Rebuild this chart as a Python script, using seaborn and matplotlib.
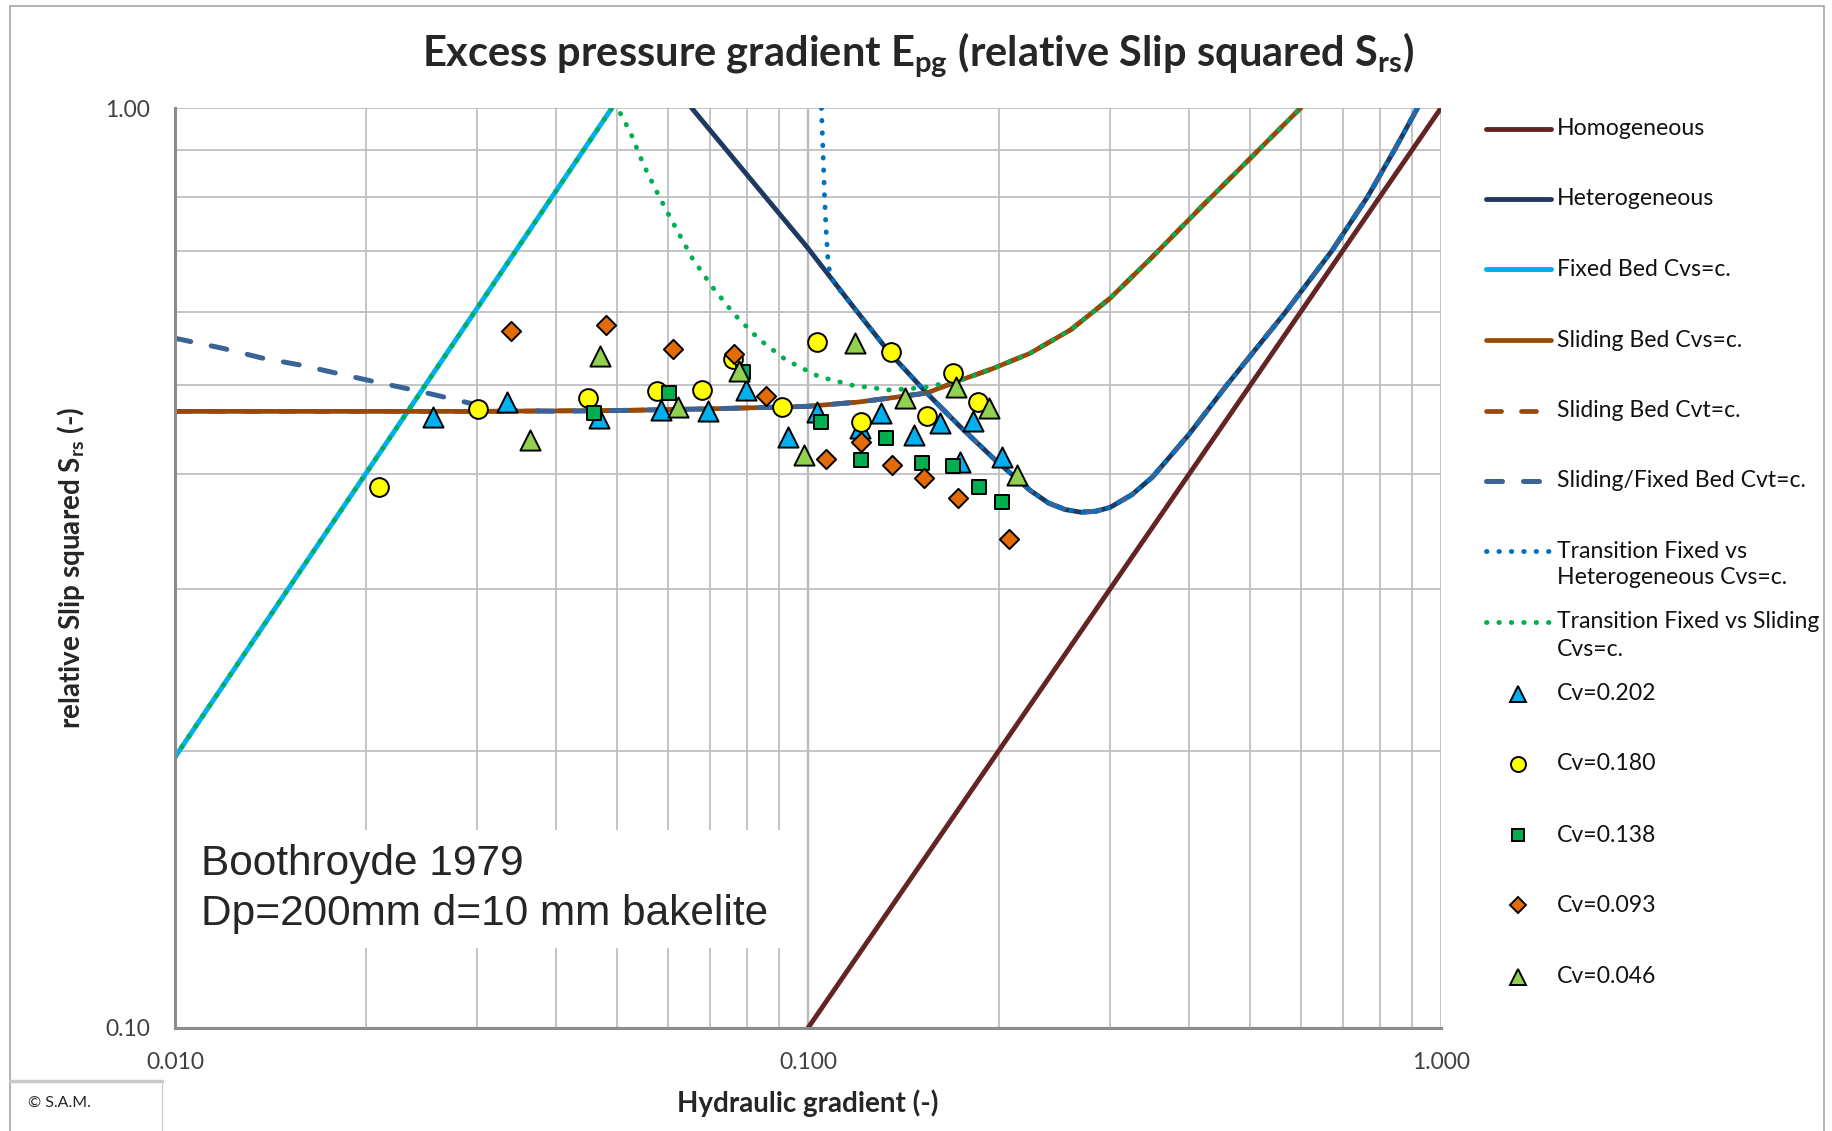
import matplotlib
matplotlib.use("Agg")
import matplotlib.pyplot as plt
import seaborn as sns
from matplotlib.lines import Line2D
from matplotlib.patches import Rectangle
from matplotlib.ticker import FixedLocator, NullFormatter

# --- model curves ---
homog_x = [0.10, 1.00]
homog_y = [0.10, 1.00]

hetero_x = [0.0655, 0.0821, 0.0995, 0.1179, 0.1348, 0.154, 0.1739, 0.1964, 0.2244, 0.240,
            0.255, 0.270, 0.285, 0.300, 0.325, 0.350, 0.400, 0.459, 0.568, 0.673, 0.765,
            0.844, 0.918]
hetero_y = [1.000, 0.829, 0.707, 0.608, 0.541, 0.490, 0.4505, 0.416, 0.384, 0.372,
            0.366, 0.3636, 0.3645, 0.368, 0.380, 0.397, 0.442, 0.500, 0.600, 0.700, 0.800,
            0.900, 1.000]

fixed_x = [0.010, 0.049]
fixed_y = [0.197, 1.000]

sliding_x = [0.010, 0.030, 0.050, 0.070, 0.090, 0.100, 0.120, 0.135, 0.154, 0.174, 0.196,
             0.224, 0.260, 0.300, 0.350, 0.420, 0.500, 0.600]
sliding_y = [0.468, 0.468, 0.469, 0.471, 0.473, 0.474, 0.479, 0.484, 0.490, 0.506, 0.521,
             0.541, 0.574, 0.621, 0.689, 0.783, 0.882, 1.000]

slidfix_x = [0.010, 0.0119, 0.0137, 0.0159, 0.0182, 0.0211, 0.0244, 0.0280, 0.0326, 0.040,
             0.050, 0.070, 0.090, 0.100, 0.120, 0.135, 0.154, 0.1739, 0.1964, 0.2244, 0.240,
             0.255, 0.270, 0.285, 0.300, 0.325, 0.350, 0.400, 0.459, 0.568, 0.673, 0.765,
             0.844, 0.918]
slidfix_y = [0.562, 0.548, 0.535, 0.525, 0.514, 0.5025, 0.492, 0.481, 0.4695, 0.468,
             0.469, 0.471, 0.473, 0.474, 0.479, 0.484, 0.490, 0.4505, 0.416, 0.384, 0.372,
             0.366, 0.3636, 0.3645, 0.368, 0.380, 0.397, 0.442, 0.500, 0.600, 0.700, 0.800,
             0.900, 1.000]

trans_het_x = [0.1050, 0.1056, 0.1062, 0.1068, 0.1077, 0.1100, 0.1179, 0.1348, 0.154, 0.1739,
               0.1964, 0.2244, 0.240, 0.255, 0.270, 0.285, 0.300, 0.325, 0.350, 0.400, 0.459,
               0.568, 0.673, 0.765, 0.844, 0.918]
trans_het_y = [1.000, 0.900, 0.801, 0.737, 0.672, 0.645, 0.608, 0.541, 0.490, 0.4505,
               0.416, 0.384, 0.372, 0.366, 0.3636, 0.3645, 0.368, 0.380, 0.397, 0.442, 0.500,
               0.600, 0.700, 0.800, 0.900, 1.000]

trans_sld_x = [0.010, 0.049, 0.0502, 0.0524, 0.0550, 0.0582, 0.0618, 0.0657, 0.0706, 0.0766,
               0.0837, 0.0924, 0.1041, 0.1179, 0.1348, 0.1521, 0.174, 0.196, 0.224, 0.260,
               0.300, 0.350, 0.420, 0.500, 0.600]
trans_sld_y = [0.197, 1.000, 0.995, 0.941, 0.867, 0.801, 0.741, 0.686, 0.639, 0.596,
               0.5605, 0.532, 0.5105, 0.4993, 0.4937, 0.4966, 0.506, 0.521, 0.541, 0.574,
               0.621, 0.689, 0.783, 0.882, 1.000]

# --- measurements ---
cv202_x = [0.0256, 0.0334, 0.0468, 0.0586, 0.0696, 0.0798, 0.0930, 0.1032, 0.1210, 0.1304,
           0.1470, 0.1615, 0.1739, 0.1820, 0.2023]
cv202_y = [0.461, 0.479, 0.460, 0.470, 0.469, 0.494, 0.439, 0.467, 0.449, 0.466,
           0.441, 0.455, 0.412, 0.457, 0.418]
cv180_x = [0.0210, 0.0301, 0.0449, 0.0577, 0.0681, 0.0762, 0.0911, 0.1032, 0.1211, 0.1351,
           0.1543, 0.1697, 0.1854]
cv180_y = [0.387, 0.471, 0.484, 0.493, 0.494, 0.533, 0.473, 0.557, 0.456, 0.5425,
           0.463, 0.515, 0.479]
cv138_x = [0.0459, 0.0604, 0.0789, 0.1047, 0.1213, 0.1330, 0.1514, 0.1694, 0.1865, 0.2023]
cv138_y = [0.466, 0.4905, 0.517, 0.456, 0.414, 0.4375, 0.4116, 0.4086, 0.387, 0.3733]
cv093_x = [0.0340, 0.0479, 0.0613, 0.0765, 0.0859, 0.1067, 0.1213, 0.1356, 0.1525, 0.1728, 0.2080]
cv093_y = [0.572, 0.581, 0.547, 0.540, 0.486, 0.415, 0.433, 0.409, 0.396, 0.3765, 0.340]
cv046_x = [0.0364, 0.0469, 0.0624, 0.0778, 0.0985, 0.1187, 0.1425, 0.1713, 0.1932, 0.2136]
cv046_y = [0.4355, 0.5375, 0.4736, 0.518, 0.4196, 0.556, 0.484, 0.497, 0.4716, 0.399]

x_ticks = [0.01, 0.1, 1.0]
x_ticklabels = ["0.010", "0.100", "1.000"]
y_ticks = [0.1, 1.0]
y_ticklabels = ["0.10", "1.00"]

sns.set_style("white")
plt.rcParams['font.family'] = ['Lato', 'DejaVu Sans']
plt.rcParams['mathtext.default'] = 'regular'

W, H = 1833, 1131
fig = plt.figure(figsize=(W / 100, H / 100), dpi=100)
ax = fig.add_axes([175 / W, 1 - 1028 / H, (1441 - 175) / W, (1028 - 108) / H])
ax.set_xscale('log')
ax.set_yscale('log')

DOT = (0, (0.1, 2.45))
DASH = (0, (3.2, 4.2))
lines = [
    ("Homogeneous", homog_x, homog_y, dict(color='#632523', lw=3.5, linestyle='-')),
    ("Heterogeneous", hetero_x, hetero_y, dict(color='#1F3A60', lw=3.5, linestyle='-')),
    ("Fixed Bed Cvs=c.", fixed_x, fixed_y, dict(color='#00B0F0', lw=3.6, linestyle='-')),
    ("Sliding Bed Cvs=c.", sliding_x, sliding_y, dict(color='#984807', lw=3.4, linestyle='-')),
    ("Sliding Bed Cvt=c.", sliding_x, sliding_y, dict(color='#984807', lw=3.4, linestyle=DASH)),
    ("Sliding/Fixed Bed Cvt=c.", slidfix_x, slidfix_y, dict(color='#3A6496', lw=3.6, linestyle=DASH)),
    ("Transition Fixed vs\nHeterogeneous Cvs=c.", trans_het_x, trans_het_y,
     dict(color='#0070C0', lw=3.5, linestyle=DOT)),
    ("Transition Fixed vs Sliding\nCvs=c.", trans_sld_x, trans_sld_y,
     dict(color='#00B050', lw=3.5, linestyle=DOT)),
]
for label, xs, ys, st in lines:
    sns.lineplot(x=xs, y=ys, ax=ax, sort=False, estimator=None, color=st['color'],
                 linewidth=st['lw'], linestyle=st['linestyle'],
                 dash_capstyle='round', solid_capstyle='round', solid_joinstyle='round')

points = [
    ("Cv=0.202", cv202_x, cv202_y, dict(marker='^', color='#00B0F0', s=14.5 ** 2)),
    ("Cv=0.180", cv180_x, cv180_y, dict(marker='o', color='#FFFF00', s=13.5 ** 2)),
    ("Cv=0.138", cv138_x, cv138_y, dict(marker='s', color='#00B050', s=10.5 ** 2)),
    ("Cv=0.093", cv093_x, cv093_y, dict(marker='D', color='#E36C09', s=9.8 ** 2)),
    ("Cv=0.046", cv046_x, cv046_y, dict(marker='^', color='#92D050', s=14.5 ** 2)),
]
for label, xs, ys, st in points:
    sns.scatterplot(x=xs, y=ys, ax=ax, marker=st['marker'], color=st['color'], s=st['s'],
                    edgecolor='black', linewidth=1.4, zorder=5)

ax.set_xlim(0.01, 1.0)
ax.set_ylim(0.1, 1.0)
ax.xaxis.set_major_locator(FixedLocator(x_ticks))
ax.set_xticklabels(x_ticklabels)
ax.yaxis.set_major_locator(FixedLocator(y_ticks))
ax.set_yticklabels(y_ticklabels)
ax.xaxis.set_minor_locator(FixedLocator([m * d for d in (0.01, 0.1) for m in range(2, 10)]))
ax.yaxis.set_minor_locator(FixedLocator([m * 0.1 for m in range(2, 10)]))
ax.xaxis.set_minor_formatter(NullFormatter())
ax.yaxis.set_minor_formatter(NullFormatter())
ax.tick_params(which='both', length=0, labelsize=16.5, colors='#404040')
ax.tick_params(axis='x', pad=17)
ax.tick_params(axis='y', pad=18)
ax.grid(which='both', color='#BFBFBF', lw=1.3, zorder=0)
ax.axvline(0.1, color='#8C8C8C', lw=1.6, zorder=0.5)
ax.set_axisbelow(True)
for side in ('top', 'right'):
    ax.spines[side].set_visible(False)
for side in ('left', 'bottom'):
    ax.spines[side].set_color('#8C8C8C')
    ax.spines[side].set_linewidth(2.2)

ax.set_xlabel("Hydraulic gradient (-)", fontsize=20, fontweight='bold', labelpad=12)
ax.set_ylabel("relative Slip squared S$_{rs}$ (-)", fontsize=20, fontweight='bold', labelpad=13)

ax.text(0.0205, 0.151, "Boothroyde 1979\nDp=200mm d=10 mm bakelite",
        transform=ax.transAxes, family='Liberation Sans', fontsize=30.5, va='center',
        ha='left', linespacing=1.34, zorder=6,
        bbox=dict(facecolor='white', edgecolor='none', pad=10))

fig.text(918 / W, 1 - 55 / H,
         "Excess pressure gradient E$_{pg}$ (relative Slip squared S$_{rs}$)",
         ha='center', va='center', fontsize=30, fontweight='bold')

# manual legend, one row every ~70 px; second text line 27 px lower
rows_y = [128.7, 198.8, 269.0, 340.4, 410.5, 480.7, 551.0, 622.0, 693.6, 763.8, 835.0, 905.3, 976.7]
hx0, hx1, mx, tx = 1486 / W, 1551 / W, 1518.5 / W, 1557 / W
LEG_FS = 16.6


def legend_text(yy, label):
    for k, part in enumerate(label.split('\n')):
        fig.text(tx, 1 - (yy + k * 27) / H, part, fontsize=LEG_FS, va='center', ha='left',
                 color='#111111')


for (label, _, _, st), yy in zip(lines, rows_y[:8]):
    yf = 1 - yy / H
    fig.add_artist(Line2D([hx0, hx1], [yf, yf], transform=fig.transFigure, color=st['color'],
                          lw=st['lw'], linestyle=st['linestyle'],
                          dash_capstyle='round', solid_capstyle='round'))
    legend_text(yy, label)
for (label, _, _, st), yy in zip(points, rows_y[8:]):
    yf = 1 - yy / H
    fig.add_artist(Line2D([mx], [yf], transform=fig.transFigure, marker=st['marker'],
                          markersize=st['s'] ** 0.5 * 0.8, markerfacecolor=st['color'],
                          markeredgecolor='black', markeredgewidth=1.4, linestyle='none'))
    legend_text(yy, label)

# chart frame and copyright box
fig.add_artist(Rectangle((10 / W, -0.01), (1824 - 10) / W, 1 - 6 / H + 0.01,
                         transform=fig.transFigure, fill=False, edgecolor='#A6A6A6', lw=1.2))
fig.add_artist(Line2D([10 / W, 162 / W], [1 - 1081 / H] * 2, transform=fig.transFigure,
                      color='#C8C8C8', lw=2.5))
fig.add_artist(Line2D([162 / W, 162 / W], [1 - 1081 / H, 0], transform=fig.transFigure,
                      color='#D0D0D0', lw=1.0))
fig.text(28 / W, 1 - 1103 / H, "© S.A.M.", fontsize=11.5, va='center', ha='left')

fig.savefig("out.png", dpi=100)
